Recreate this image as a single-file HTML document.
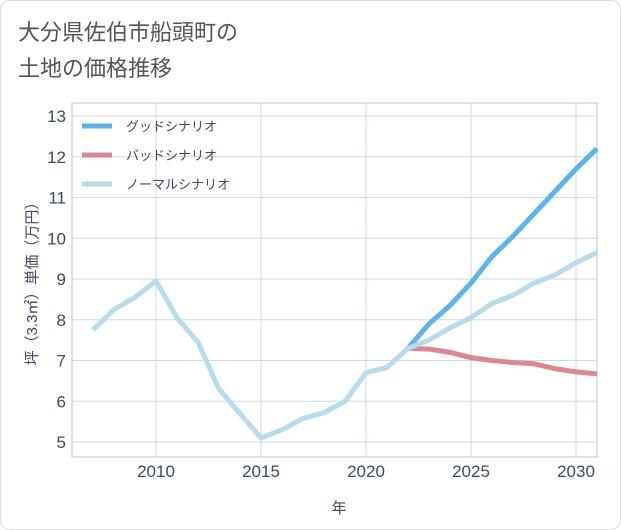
<!DOCTYPE html>
<html><head><meta charset="utf-8"><style>
body{margin:0;width:621px;height:530px;background:#fff;font-family:"Liberation Sans","Noto Sans CJK JP",sans-serif;}
#card{position:absolute;left:0;top:0;width:619px;height:528px;border:1px solid #ddd;border-radius:10px;background:#fff;}
</style></head><body>
<div id="card"></div>
<svg id="chart" width="621" height="530" style="position:absolute;left:0;top:0">
<text x="18" y="40" font-size="22" fill="#555" font-family="Liberation Sans,Noto Sans CJK JP,sans-serif">大分県佐伯市船頭町の</text>
<text x="18" y="76" font-size="22" fill="#555" font-family="Liberation Sans,Noto Sans CJK JP,sans-serif">土地の価格推移</text>
<g id="grid"></g><g id="series"></g><g id="legend"></g>
<text x="339" y="513" font-size="15" fill="#3d4b5c" text-anchor="middle" font-family="Liberation Sans,Noto Sans CJK JP,sans-serif">年</text>
<text transform="translate(37,280) rotate(-90)" font-size="15" fill="#3d4b5c" text-anchor="middle" font-family="Liberation Sans,Noto Sans CJK JP,sans-serif">坪（3.3㎡）単価（万円）</text>
</svg>
<script>
const years=[2007,2008,2009,2010,2011,2012,2013,2014,2015,2016,2017,2018,2019,2020,2021,2022,2023,2024,2025,2026,2027,2028,2029,2030,2031];
const normalValues=[7.75,8.25,8.55,8.95,8.05,7.45,6.3,5.7,5.1,5.3,5.58,5.72,6.0,6.7,6.83,7.3,7.5,7.8,8.05,8.4,8.6,8.9,9.1,9.4,9.65];
const futureYears=[2022,2023,2024,2025,2026,2027,2028,2029,2030,2031];
const goodValues=[7.3,7.9,8.35,8.9,9.55,10.05,10.6,11.15,11.7,12.2];
const badValues=[7.3,7.28,7.2,7.07,7.0,6.95,6.92,6.8,6.72,6.67];
const yTicks=[5,6,7,8,9,10,11,12,13];
const xTicks=[2010,2015,2020,2025,2030];
const ns="http://www.w3.org/2000/svg";
const L=72,R=597,T=103,B=457;
const xs=v=>156+(v-2010)*21;
const ys=v=>442-(v-5)*40.75;
function mk(tag,attrs,parent){const e=document.createElementNS(ns,tag);for(const k in attrs)e.setAttribute(k,attrs[k]);parent.appendChild(e);return e;}
const grid=document.getElementById('grid');
const bg=mk('rect',{x:L,y:T,width:R-L,height:B-T,fill:'#fff',stroke:'#b8c4d0'},grid);


yTicks.forEach(t=>{
 const l=mk('line',{x1:L,x2:R,y1:ys(t),y2:ys(t),stroke:'#d0dae4'},grid);
 
 
 const tx=mk('text',{x:L-6,y:ys(t)+6,'font-size':17,fill:'#3d4b5c','text-anchor':'end'},grid);
 tx.textContent=t;
 
 
});
xTicks.forEach(t=>{
 const l=mk('line',{x1:xs(t),x2:xs(t),y1:T,y2:B,stroke:'#d0dae4'},grid);
 
 
 const tx=mk('text',{x:xs(t),y:B+20,'font-size':17,fill:'#3d4b5c','text-anchor':'middle'},grid);
 tx.textContent=t;
 
 
});
const sg=document.getElementById('series');
function line(xv,yv,color,name){
 const p=mk('polyline',{points:xv.map((x,i)=>xs(x)+','+ys(yv[i])).join(' '),fill:'none',stroke:color,'stroke-width':5,'stroke-linejoin':'round'},sg);
 
 
}
line(futureYears,badValues,'#e0868f','bad-scenario-line');
line(futureYears,goodValues,'#5ab6f0','good-scenario-line');
line(years,normalValues,'#b7dcec','normal-scenario-line');
const lg=document.getElementById('legend');
[['グッドシナリオ','#5ab6f0'],['バッドシナリオ','#e0868f'],['ノーマルシナリオ','#b7dcec']].forEach((d,i)=>{
 const y=126+i*29;
 const l=mk('line',{x1:82,x2:112,y1:y,y2:y,stroke:d[1],'stroke-width':5},lg);
 
 
 const t=mk('text',{x:126,y:y+5,'font-size':13,fill:'#3d4b5c'},lg);
 t.textContent=d[0];
 
 
});
</script>
</body></html>
